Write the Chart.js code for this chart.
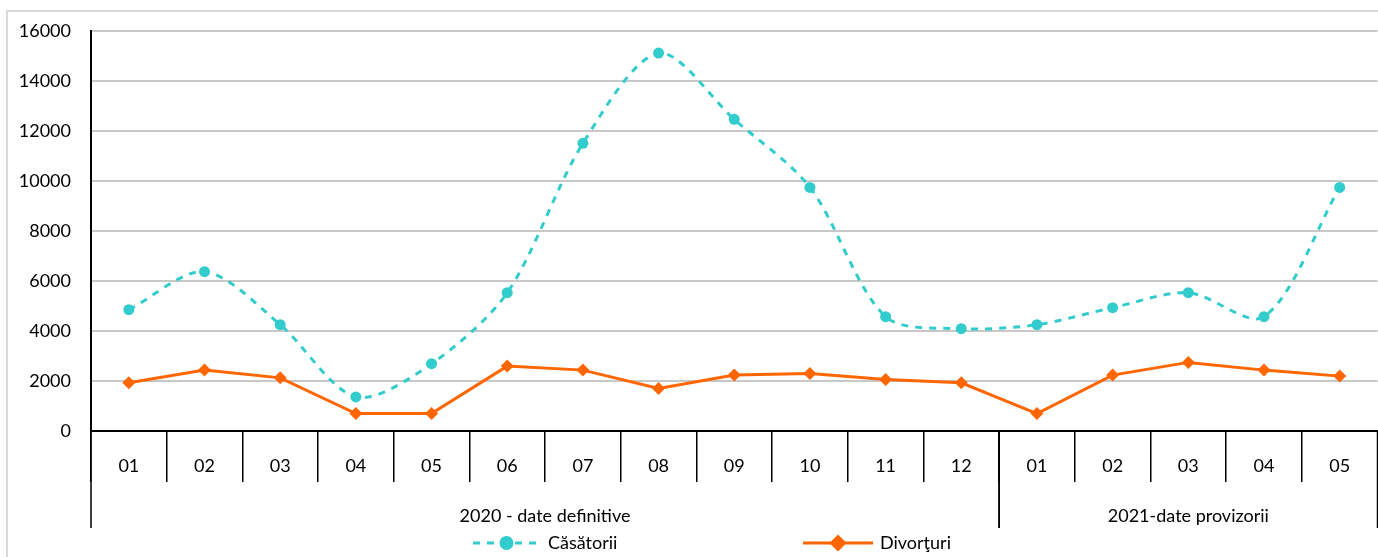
<!DOCTYPE html>
<html>
<head>
<meta charset="utf-8">
<script src="https://cdn.jsdelivr.net/npm/chart.js@4"></script>
<style>
  html, body { margin: 0; padding: 0; background: #fff; overflow: hidden; }
  #frame { position: absolute; left: 6px; top: 10px; width: 1400px; height: 600px; border: 2px solid #d9d9d9; box-sizing: border-box; }
  #wrap { position: absolute; left: 0; top: 0; width: 1384px; height: 557px; }
</style>
</head>
<body>
<div id="frame"></div>
<div id="wrap"><canvas id="chart"></canvas></div>
<script>
// month labels and the two year groups under them
const months = ["01", "02", "03", "04", "05", "06", "07", "08", "09", "10", "11", "12", "01", "02", "03", "04", "05"];
const groups = ["2020 - date definitive", "2021-date provizorii"];
const groupSizes = [12, 5];

// values
const casatorii = [4850, 6370, 4250, 1360, 2690, 5530, 11500, 15110, 12460, 9740, 4570, 4090, 4250, 4930, 5530, 4570, 9740];
const divorturi = [1925, 2434, 2125, 698, 698, 2594, 2434, 1700, 2234, 2300, 2060, 1925, 698, 2234, 2743, 2434, 2194];

const yTicks = [0, 2000, 4000, 6000, 8000, 10000, 12000, 14000, 16000];

const FONT = "Lato";
const FSIZE = 18;
const TEAL = "#33CCCC";
const ORANGE = "#FF6600";

// group row under the month labels + legend at the bottom
const extrasPlugin = {
  id: "extras",
  afterDraw(chart) {
    const ctx = chart.ctx;
    const x = chart.scales.x;
    const half = (x.getPixelForValue(1) - x.getPixelForValue(0)) / 2;
    ctx.save();
    ctx.strokeStyle = "#000";
    ctx.lineWidth = 1.5;
    ctx.fillStyle = "#000";
    ctx.font = FSIZE + "px " + FONT;
    ctx.textAlign = "center";
    ctx.textBaseline = "middle";
    let start = 0;
    groups.forEach((g, i) => {
      const end = start + groupSizes[i] - 1;
      const left = x.getPixelForValue(start) - half;
      const right = x.getPixelForValue(end) + half;
      ctx.beginPath();
      ctx.moveTo(left, x.top);
      ctx.lineTo(left, x.top + 97);
      ctx.moveTo(right, x.top);
      ctx.lineTo(right, x.top + 97);
      ctx.stroke();
      ctx.fillText(g, (left + right) / 2, x.top + 85);
      start = end + 1;
    });

    // legend
    const ly = x.top + 112;
    const items = [
      { label: "Căsătorii", x0: 473, x1: 540, tx: 548, color: TEAL, dash: [7, 7], point: "circle" },
      { label: "Divorţuri", x0: 803, x1: 873, tx: 880, color: ORANGE, dash: [], point: "rectRot" }
    ];
    items.forEach(it => {
      ctx.strokeStyle = it.color;
      ctx.lineWidth = 3;
      ctx.setLineDash(it.dash);
      ctx.beginPath();
      ctx.moveTo(it.x0, ly);
      ctx.lineTo(it.x1, ly);
      ctx.stroke();
      ctx.setLineDash([]);
      ctx.fillStyle = it.color;
      Chart.helpers.drawPoint(ctx, { pointStyle: it.point, radius: it.point === "circle" ? 5.5 : 6.5, rotation: 0, borderWidth: 1 }, (it.x0 + it.x1) / 2, ly);
      ctx.fill();
      ctx.fillStyle = "#000";
      ctx.textAlign = "left";
      ctx.font = FSIZE + "px " + FONT;
      ctx.fillText(it.label, it.tx, ly);
    });
    ctx.restore();
  }
};

new Chart(document.getElementById("chart"), {
  type: "line",
  data: {
    labels: months,
    datasets: [
      {
        label: "Căsătorii",
        data: casatorii,
        borderColor: TEAL,
        backgroundColor: TEAL,
        borderWidth: 3,
        borderDash: [7, 7],
        tension: 0.3,
        pointStyle: "circle",
        pointRadius: 5.5,
        pointBorderWidth: 0
      },
      {
        label: "Divorţuri",
        data: divorturi,
        borderColor: ORANGE,
        backgroundColor: ORANGE,
        borderWidth: 3,
        tension: 0,
        pointStyle: "rectRot",
        pointRadius: 6.5,
        pointBorderWidth: 0
      }
    ]
  },
  options: {
    responsive: true,
    maintainAspectRatio: false,
    animation: false,
    layout: { padding: { left: 0, right: 0, top: 23, bottom: 0 } },
    plugins: {
      legend: { display: false },
      tooltip: { enabled: false }
    },
    scales: {
      x: {
        offset: true,
        afterFit(scale) { scale.height = 126; },
        border: { color: "#000", width: 2 },
        grid: {
          offset: true,
          drawOnChartArea: false,
          drawTicks: true,
          tickLength: 51,
          color: "#000",
          lineWidth: 1.5
        },
        ticks: {
          color: "#000",
          font: { family: FONT, size: FSIZE },
          padding: -27,
          maxRotation: 0,
          autoSkip: false
        }
      },
      y: {
        min: 0,
        max: 16000,
        afterFit(scale) { scale.width = 91; },
        afterBuildTicks(scale) { scale.ticks = yTicks.map(v => ({ value: v })); },
        border: { color: "#000", width: 2 },
        grid: { color: "#c8c8c8", lineWidth: 2, drawTicks: false },
        ticks: {
          color: "#000",
          font: { family: FONT, size: FSIZE },
          padding: 20,
          callback: v => String(v)
        }
      }
    }
  },
  plugins: [extrasPlugin]
});
</script>
</body>
</html>
